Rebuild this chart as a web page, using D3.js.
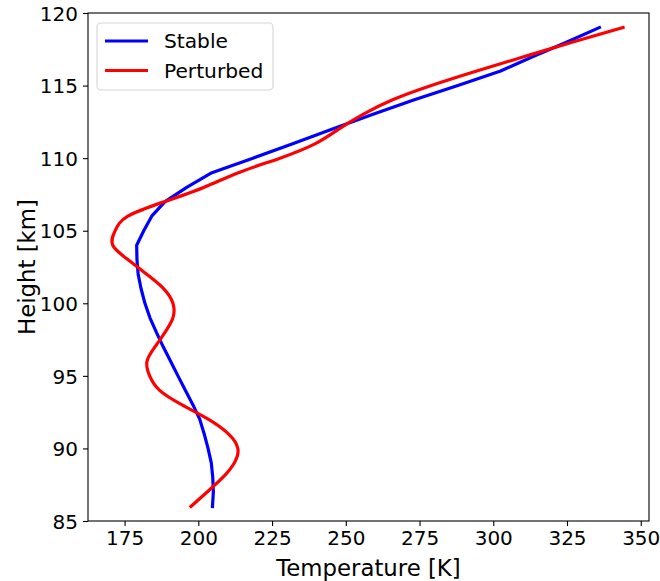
<!DOCTYPE html>
<html>
<head>
<meta charset="utf-8">
<script src="https://cdn.jsdelivr.net/npm/d3@7"></script>
<style>
  html, body { margin: 0; padding: 0; background: #fff; }
  svg { display: block; }
  text { font-family: "DejaVu Sans", sans-serif; fill: #000; }
</style>
</head>
<body>
<svg id="chart" width="660" height="581"></svg>
<script>
// ---- data ----
const heights = [86,87,88,89,90,91,92,93,94,95,96,97,98,99,100,101,102,103,104,105,106,107,108,109,110,111,112,113,114,115,116,117,118,119];
const stableTemp = [204.8,205.1,204.9,204.4,203.3,202.0,200.5,198.2,195.6,193.1,190.6,188.1,185.8,183.6,181.9,180.6,179.6,179.2,179.1,181.5,184.2,188.7,196.2,204.6,218.5,232.0,245.5,259.0,273.0,288.0,302.5,313.5,325.0,336.0];
const perturbedTemp = [197.5,203.0,208.3,212.2,213.4,210.2,203.5,194.5,186.9,183.5,182.6,185.3,188.7,191.4,191.4,188.3,182.5,176.2,171.0,171.8,176.1,188.5,202.0,213.6,227.7,239.7,247.6,255.7,265.7,279.0,294.4,310.6,327.0,344.0];
const seriesNames = ["Stable", "Perturbed"];
const seriesColors = ["#0000ff", "#ff0000"];
const xTicks = [175,200,225,250,275,300,325,350];
const yTicks = [85,90,95,100,105,110,115,120];
const xLabel = "Temperature [K]";
const yLabel = "Height [km]";

// ---- layout ----
const L = 88, R = 649, T = 13, B = 521;
const svg = d3.select("#chart");
const x = d3.scaleLinear().domain([162.6, 352.8]).range([L, R]);
const y = d3.scaleLinear().domain([85, 120]).range([B, T]);

const series = [stableTemp, perturbedTemp];
const curves = [d3.curveLinear, d3.curveNatural];

const plot = svg.append("g");
series.forEach((vals, i) => {
  const line = d3.line()
    .x(d => x(d[0]))
    .y(d => y(d[1]))
    .curve(curves[i]);
  plot.append("path")
    .datum(vals.map((v, k) => [v, heights[k]]))
    .attr("d", line)
    .attr("fill", "none")
    .attr("stroke", seriesColors[i])
    .attr("stroke-width", 3.2)
    .attr("stroke-linejoin", "round")
    .attr("stroke-linecap", "square");
});

// axes
const xAxis = d3.axisBottom(x).tickValues(xTicks).tickSize(5).tickPadding(5).tickFormat(d3.format("d"));
const yAxis = d3.axisLeft(y).tickValues(yTicks).tickSize(5).tickPadding(5).tickFormat(d3.format("d"));
const gx = svg.append("g").attr("transform", `translate(0,${B})`).call(xAxis);
const gy = svg.append("g").attr("transform", `translate(${L},0)`).call(yAxis);
[gx, gy].forEach(g => {
  g.select(".domain").remove();
  g.selectAll(".tick line").attr("stroke", "#000").attr("stroke-width", 1.1);
  g.selectAll(".tick text").attr("font-size", "20px").attr("font-family", "DejaVu Sans").attr("fill", "#000");
});
gy.selectAll(".tick text").attr("dy", "0.36em");

// frame
svg.append("rect").attr("x", L).attr("y", T).attr("width", R - L).attr("height", B - T)
  .attr("fill", "none").attr("stroke", "#000").attr("stroke-width", 1.1);

// labels
svg.append("text").attr("x", (L + R) / 2).attr("y", 576).attr("text-anchor", "middle")
  .attr("font-size", "22.8px").text(xLabel);
svg.append("text").attr("transform", `translate(35,${(T + B) / 2}) rotate(-90)`)
  .attr("text-anchor", "middle").attr("font-size", "22.8px").text(yLabel);

// legend
const lg = svg.append("g");
lg.append("rect").attr("x", 97).attr("y", 23).attr("width", 176).attr("height", 67).attr("rx", 4)
  .attr("fill", "#fff").attr("fill-opacity", 0.8).attr("stroke", "#d6d6d6").attr("stroke-width", 1.1);
seriesNames.forEach((name, i) => {
  const yy = 41 + i * 29.5;
  lg.append("line").attr("x1", 105).attr("x2", 148).attr("y1", yy).attr("y2", yy)
    .attr("stroke", seriesColors[i]).attr("stroke-width", 3.2);
  lg.append("text").attr("x", 164).attr("y", yy).attr("dy", "0.36em")
    .attr("font-size", "20.2px").text(name);
});
</script>
</body>
</html>
